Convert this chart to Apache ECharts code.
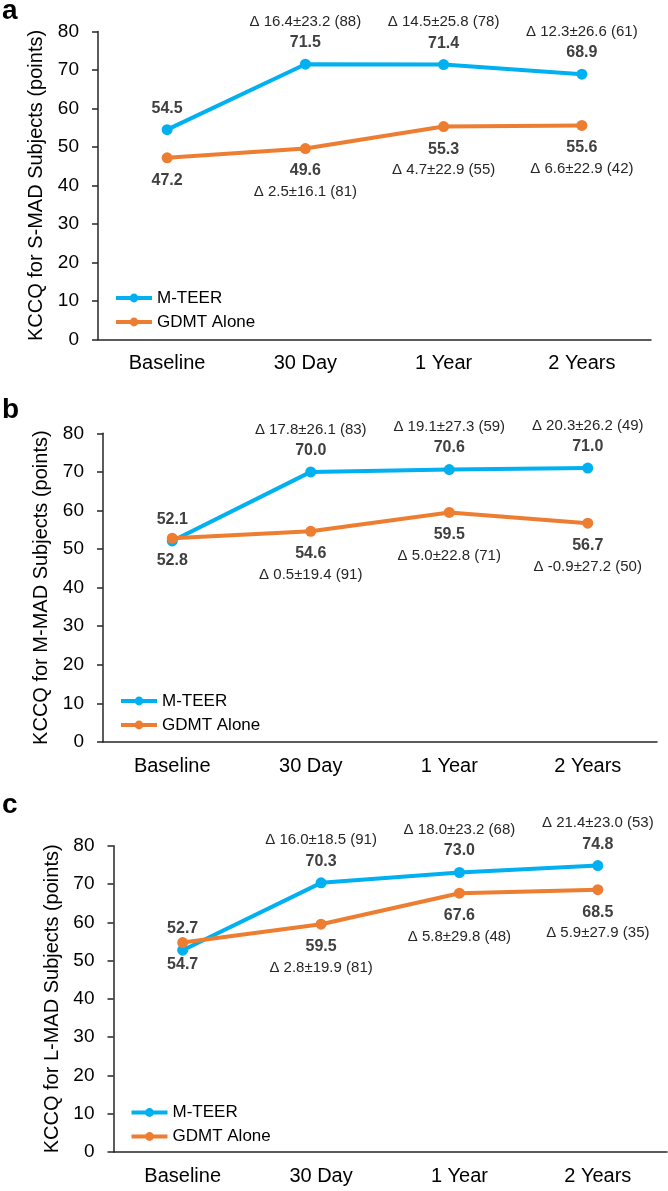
<!DOCTYPE html>
<html>
<head>
<meta charset="utf-8">
<script src="https://cdn.jsdelivr.net/npm/echarts@6/dist/echarts.min.js"></script>
<style>
html,body{margin:0;padding:0;background:#fff;}
#chart{width:668px;height:1191px;}
</style>
</head>
<body>
<div id="chart"></div>
<script>
// ---- data ----
const categories = ['Baseline', '30 Day', '1 Year', '2 Years'];
const yTicks = [0, 10, 20, 30, 40, 50, 60, 70, 80];
const seriesNames = ['M-TEER', 'GDMT Alone'];
const panelLetters = ['a', 'b', 'c'];
const yTitles = ['KCCQ for S-MAD Subjects (points)', 'KCCQ for M-MAD Subjects (points)', 'KCCQ for L-MAD Subjects (points)'];

const sMadTeer = [54.5, 71.5, 71.4, 68.9];
const sMadGdmt = [47.2, 49.6, 55.3, 55.6];
const sMadTeerDelta = ['', 'Δ 16.4±23.2 (88)', 'Δ 14.5±25.8 (78)', 'Δ 12.3±26.6 (61)'];
const sMadGdmtDelta = ['', 'Δ 2.5±16.1 (81)', 'Δ 4.7±22.9 (55)', 'Δ 6.6±22.9 (42)'];

const mMadTeer = [52.1, 70.0, 70.6, 71.0];
const mMadGdmt = [52.8, 54.6, 59.5, 56.7];
const mMadTeerDelta = ['', 'Δ 17.8±26.1 (83)', 'Δ 19.1±27.3 (59)', 'Δ 20.3±26.2 (49)'];
const mMadGdmtDelta = ['', 'Δ 0.5±19.4 (91)', 'Δ 5.0±22.8 (71)', 'Δ -0.9±27.2 (50)'];

const lMadTeer = [52.7, 70.3, 73.0, 74.8];
const lMadGdmt = [54.7, 59.5, 67.6, 68.5];
const lMadTeerDelta = ['', 'Δ 16.0±18.5 (91)', 'Δ 18.0±23.2 (68)', 'Δ 21.4±23.0 (53)'];
const lMadGdmtDelta = ['', 'Δ 2.8±19.9 (81)', 'Δ 5.8±29.8 (48)', 'Δ 5.9±27.9 (35)'];

const panels = [
  {teer: sMadTeer, gdmt: sMadGdmt, teerD: sMadTeerDelta, gdmtD: sMadGdmtDelta},
  {teer: mMadTeer, gdmt: mMadGdmt, teerD: mMadTeerDelta, gdmtD: mMadGdmtDelta},
  {teer: lMadTeer, gdmt: lMadGdmt, teerD: lMadTeerDelta, gdmtD: lMadGdmtDelta}
];

// ---- layout / style ----
const layout = [
  {left: 98, top: 31.5, width: 553, height: 308, legendTop: 289.5, letterY: 8, nameGap: 46},
  {left: 103, top: 433.3, width: 554, height: 308.7, legendTop: 692.5, letterY: 407, nameGap: 47},
  {left: 113.5, top: 845.7, width: 553.5, height: 306.3, legendTop: 1104, letterY: 802, nameGap: 50}
];
const FONT = '"Liberation Sans", Arial, Helvetica, sans-serif';
const BLUE = '#00B0F0';
const ORANGE = '#ED7D31';
const AXIS = '#262626';

const rich = {
  v: {fontFamily: FONT, fontSize: 16, fontWeight: 'bold', color: '#404040', lineHeight: 21},
  d: {fontFamily: FONT, fontSize: 15, color: '#262626', lineHeight: 21}
};

const grids = [], xAxes = [], yAxes = [], series = [], legends = [], graphics = [];

layout.forEach((L, i) => {
  const P = panels[i];
  grids.push({left: L.left, top: L.top, width: L.width, height: L.height, containLabel: false});
  xAxes.push({
    type: 'category', gridIndex: i, data: categories, boundaryGap: true,
    axisLine: {lineStyle: {color: AXIS, width: 1.5}},
    axisTick: {alignWithLabel: true, length: 5, lineStyle: {color: AXIS, width: 1.5}},
    axisLabel: {fontFamily: FONT, fontSize: 20, color: '#000', margin: 14}
  });
  yAxes.push({
    type: 'value', gridIndex: i, min: yTicks[0], max: yTicks[yTicks.length - 1],
    interval: yTicks[1] - yTicks[0],
    name: yTitles[i], nameLocation: 'middle', nameGap: L.nameGap,
    nameTextStyle: {fontFamily: FONT, fontSize: 20, color: '#000'},
    splitLine: {show: false},
    axisLine: {show: true, lineStyle: {color: AXIS, width: 1.5}},
    axisTick: {show: true, length: 6, lineStyle: {color: AXIS, width: 1.5}},
    axisLabel: {fontFamily: FONT, fontSize: 19, color: '#000', margin: 19}
  });
  series.push({
    name: seriesNames[0], type: 'line', xAxisIndex: i, yAxisIndex: i,
    data: P.teer, color: BLUE, symbol: 'circle', symbolSize: 11,
    lineStyle: {width: 4, color: BLUE}, itemStyle: {color: BLUE},
    label: {
      show: true, position: 'top', distance: 5.5, rich: rich,
      formatter: p => (P.teerD[p.dataIndex] ? '{d|' + P.teerD[p.dataIndex] + '}\n' : '') + '{v|' + p.value.toFixed(1) + '}'
    },
    animation: false
  });
  series.push({
    name: seriesNames[1], type: 'line', xAxisIndex: i, yAxisIndex: i,
    data: P.gdmt, color: ORANGE, symbol: 'circle', symbolSize: 11,
    lineStyle: {width: 4, color: ORANGE}, itemStyle: {color: ORANGE},
    label: {
      show: true, position: 'bottom', distance: 6.5, rich: rich,
      formatter: p => '{v|' + p.value.toFixed(1) + '}' + (P.gdmtD[p.dataIndex] ? '\n{d|' + P.gdmtD[p.dataIndex] + '}' : '')
    },
    animation: false
  });
  legends.push({
    data: seriesNames, orient: 'vertical', left: L.left + 16, top: L.legendTop,
    padding: 0, itemWidth: 36, itemHeight: 11, itemGap: 7,
    lineStyle: {width: 4},
    textStyle: {fontFamily: FONT, fontSize: 17, color: '#000', lineHeight: 17}
  });
  graphics.push({
    type: 'text', left: 2, top: L.letterY - 11,
    style: {text: panelLetters[i], font: 'bold 28px ' + FONT, fill: '#000'}
  });
});

const chart = echarts.init(document.getElementById('chart'), null, {renderer: 'canvas'});
chart.setOption({
  backgroundColor: '#fff',
  animation: false,
  grid: grids, xAxis: xAxes, yAxis: yAxes, series: series, legend: legends,
  graphic: graphics
});
</script>
</body>
</html>
